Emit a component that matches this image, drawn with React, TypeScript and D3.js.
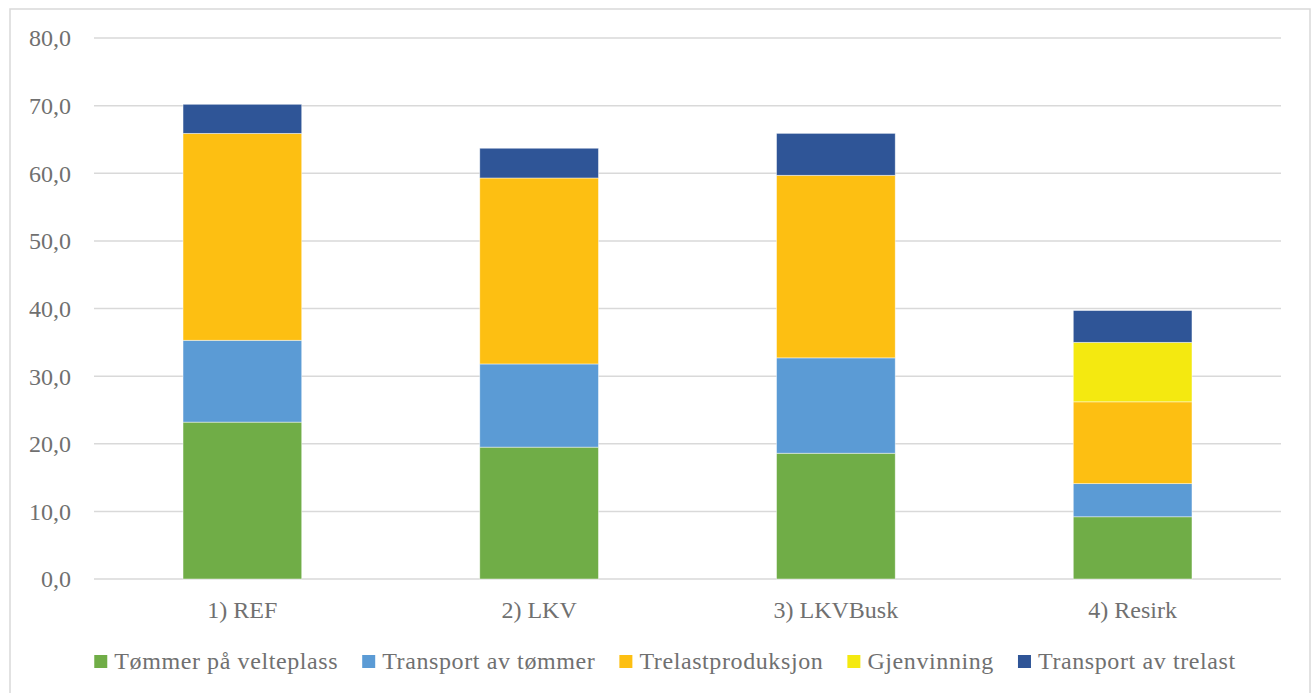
import React, { useRef, useEffect } from 'react';
import * as d3 from 'd3';

// ── Data ──────────────────────────────────────────────────────────────────────
const categories = ['1) REF', '2) LKV', '3) LKVBusk', '4) Resirk'];
const seriesNames = ['Tømmer på velteplass', 'Transport av tømmer', 'Trelastproduksjon', 'Gjenvinning', 'Transport av trelast'];
const tommerVelteplass = [23.2, 19.5, 18.6, 9.2];
const transportTommer = [12.1, 12.3, 14.1, 4.9];
const trelastproduksjon = [30.6, 27.5, 27.0, 12.1];
const gjenvinning = [0, 0, 0, 8.8];
const transportTrelast = [4.3, 4.4, 6.2, 4.7];
const yTicks = [0, 10, 20, 30, 40, 50, 60, 70, 80];

const seriesColors = ['#70AD47', '#5B9BD5', '#FDBF12', '#F4E910', '#2F5597'];

const W = 1312;
const H = 693;
const FONT = '"Liberation Serif", "Times New Roman", serif';
const TEXT = '#707070';
const GRID = '#D9D9D9';

export default function App() {
  const svgRef = useRef<SVGSVGElement>(null);

  useEffect(() => {
    if (!svgRef.current) return;
    const svg = d3.select(svgRef.current);
    svg.selectAll('*').remove();

    const values = [tommerVelteplass, transportTommer, trelastproduksjon, gjenvinning, transportTrelast];
    const rows = categories.map((c, i) => {
      const r: any = { cat: c };
      seriesNames.forEach((s, j) => { r[s] = values[j][i]; });
      return r;
    });
    const stacked = d3.stack<any>().keys(seriesNames)(rows);

    // ── Scales ──────────────────────────────────────────────────────────────
    const x = d3.scaleBand<string>().domain(categories).range([94, 1281])
      .paddingInner(0.6).paddingOuter(0.3);
    const y = d3.scaleLinear().domain([0, 80]).range([579, 38]);

    // ── Frame (bottom edge runs off the picture) ────────────────────────────
    svg.append('rect')
      .attr('x', 10).attr('y', 9).attr('width', 1300).attr('height', 700)
      .attr('fill', '#fff').attr('stroke', GRID).attr('stroke-width', 1.5);

    // ── Gridlines + y labels ────────────────────────────────────────────────
    const grid = svg.append('g');
    yTicks.forEach(t => {
      grid.append('line')
        .attr('x1', 94).attr('x2', 1281)
        .attr('y1', y(t)).attr('y2', y(t))
        .attr('stroke', GRID).attr('stroke-width', 1.5);
      grid.append('text')
        .attr('x', 71).attr('y', y(t))
        .attr('dy', '0.35em')
        .attr('text-anchor', 'end')
        .attr('font-family', FONT).attr('font-size', 24).attr('fill', TEXT)
        .text(t.toFixed(1).replace('.', ','));
    });

    // ── Bars ────────────────────────────────────────────────────────────────
    stacked.forEach((layer, j) => {
      svg.append('g').selectAll('rect')
        .data(layer.filter(d => d[1] - d[0] > 0))
        .join('rect')
        .attr('x', d => x(d.data.cat)!)
        .attr('width', x.bandwidth())
        .attr('y', d => y(d[1]))
        .attr('height', d => y(d[0]) - y(d[1]))
        .attr('fill', seriesColors[j])
        .attr('stroke', '#fff').attr('stroke-opacity', 0.6).attr('stroke-width', 0.75);
    });

    // ── Category labels ─────────────────────────────────────────────────────
    categories.forEach(c => {
      svg.append('text')
        .attr('x', x(c)! + x.bandwidth() / 2).attr('y', 618)
        .attr('text-anchor', 'middle')
        .attr('font-family', FONT).attr('font-size', 24).attr('fill', TEXT)
        .text(c);
    });

    // ── Legend ──────────────────────────────────────────────────────────────
    const lg = svg.append('g');
    const items = seriesNames.map((s, j) => {
      const g = lg.append('g');
      g.append('rect').attr('width', 13).attr('height', 13).attr('y', -14).attr('fill', seriesColors[j]);
      const t = g.append('text')
        .attr('x', 20).attr('y', 0)
        .attr('font-family', FONT).attr('font-size', 24).attr('fill', TEXT)
        .attr('letter-spacing', 0.6)
        .text(s);
      const w = (t.node() as SVGTextElement).getComputedTextLength();
      return { g, w: 20 + w };
    });
    const gap = 24;
    const total = d3.sum(items, d => d.w) + gap * (items.length - 1);
    let cx = 665 - total / 2;
    items.forEach(it => {
      it.g.attr('transform', `translate(${cx},669)`);
      cx += it.w + gap;
    });
  }, []);

  return (
    <svg
      ref={svgRef}
      width={W}
      height={H}
      style={{ position: 'absolute', left: 0, top: 0, background: '#fff' }}
    />
  );
}
